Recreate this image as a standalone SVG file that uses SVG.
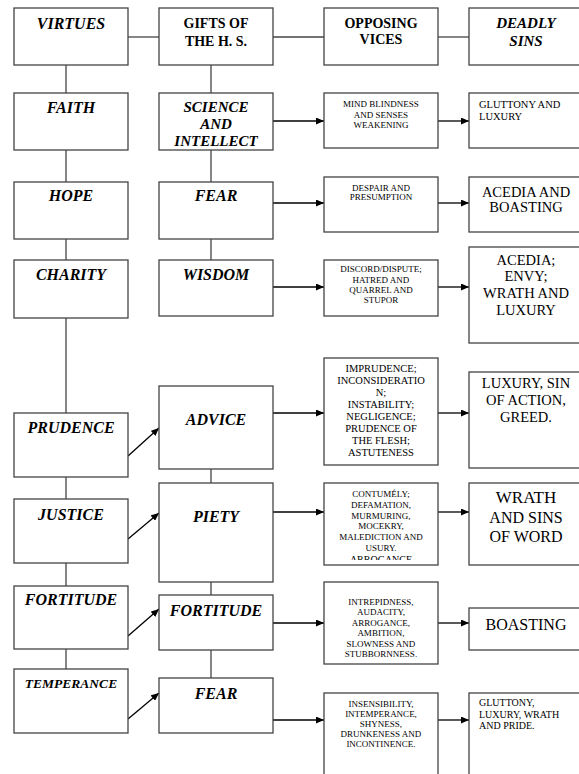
<svg xmlns="http://www.w3.org/2000/svg" width="579" height="774" viewBox="0 0 579 774">
<style>
.box{fill:#fff;stroke:#444;stroke-width:1.3}
.ln{stroke:#444;stroke-width:1.3;fill:none}
.ar{stroke:#000;stroke-width:1.3;fill:none;marker-end:url(#ah)}
text{font-family:"Liberation Serif","Times New Roman",serif;fill:#000;text-anchor:middle}
.bi{font-weight:bold;font-style:italic;font-size:16px}
.b{font-weight:bold;font-size:14px}
.s{font-size:9px}
.m{font-size:10.5px}
.L{font-size:14.5px}
.st{text-anchor:start}
</style>
<defs>
<marker id="ah" markerUnits="userSpaceOnUse" markerWidth="8" markerHeight="7" refX="8" refY="3.5" orient="auto">
<path d="M0,0 L8,3.5 L0,7 z" fill="#000"/>
</marker>
<clipPath id="clipC"><rect x="324" y="483" width="114" height="77"/></clipPath>
</defs>
<rect width="579" height="774" fill="#fff"/>
<g id="connectors">
<line class="ln" x1="128" y1="37" x2="159" y2="37"/>
<line class="ln" x1="273" y1="37" x2="324" y2="37"/>
<line class="ln" x1="438" y1="37" x2="469" y2="37"/>
<line class="ln" x1="66" y1="65" x2="66" y2="93"/>
<line class="ln" x1="66" y1="150" x2="66" y2="182"/>
<line class="ln" x1="66" y1="239" x2="66" y2="260"/>
<line class="ln" x1="66" y1="318" x2="66" y2="413"/>
<line class="ln" x1="66" y1="477" x2="66" y2="499"/>
<line class="ln" x1="66" y1="563" x2="66" y2="586"/>
<line class="ln" x1="66" y1="649" x2="66" y2="669"/>
<line class="ln" x1="211" y1="65" x2="211" y2="93"/>
<line class="ln" x1="211" y1="150" x2="211" y2="182"/>
<line class="ln" x1="211" y1="239" x2="211" y2="260"/>
<line class="ln" x1="211" y1="469" x2="211" y2="483"/>
<line class="ln" x1="211" y1="582" x2="211" y2="595"/>
<line class="ln" x1="211" y1="650" x2="211" y2="678"/>
<line class="ar" x1="273" y1="121" x2="324" y2="121"/>
<line class="ar" x1="438" y1="121" x2="469" y2="121"/>
<line class="ar" x1="273" y1="203" x2="324" y2="203"/>
<line class="ar" x1="438" y1="203" x2="469" y2="203"/>
<line class="ar" x1="273" y1="287" x2="324" y2="287"/>
<line class="ar" x1="438" y1="287" x2="469" y2="287"/>
<line class="ar" x1="273" y1="413" x2="324" y2="413"/>
<line class="ar" x1="438" y1="413" x2="469" y2="413"/>
<line class="ar" x1="273" y1="512" x2="324" y2="512"/>
<line class="ar" x1="438" y1="512" x2="469" y2="512"/>
<line class="ar" x1="273" y1="623" x2="324" y2="623"/>
<line class="ar" x1="438" y1="623" x2="469" y2="623"/>
<line class="ar" x1="273" y1="720" x2="324" y2="720"/>
<line class="ar" x1="438" y1="720" x2="469" y2="720"/>
<line class="ar" x1="128" y1="456" x2="159" y2="428"/>
<line class="ar" x1="128" y1="539" x2="159" y2="513"/>
<line class="ar" x1="128" y1="636" x2="159" y2="609"/>
<line class="ar" x1="128" y1="719" x2="159" y2="693"/>
</g>
<g id="virtues"><rect class="box" x="14" y="8" width="114" height="57"/><text class="bi" x="71" y="29">VIRTUES</text></g>
<g id="faith"><rect class="box" x="14" y="93" width="114" height="57"/><text class="bi" x="71" y="113">FAITH</text></g>
<g id="hope"><rect class="box" x="14" y="182" width="114" height="57"/><text class="bi" x="71" y="201">HOPE</text></g>
<g id="charity"><rect class="box" x="14" y="260" width="114" height="58"/><text class="bi" x="71" y="280">CHARITY</text></g>
<g id="prudence"><rect class="box" x="14" y="413" width="114" height="64"/><text class="bi" x="71" y="433">PRUDENCE</text></g>
<g id="justice"><rect class="box" x="14" y="499" width="114" height="64"/><text class="bi" x="71" y="520">JUSTICE</text></g>
<g id="fortitude-v"><rect class="box" x="14" y="586" width="114" height="63"/><text class="bi" x="71" y="605">FORTITUDE</text></g>
<g id="temperance"><rect class="box" x="14" y="669" width="114" height="64"/><text class="bi" x="71" y="688" style="font-size:13.5px">TEMPERANCE</text></g>

<g id="gifts"><rect class="box" x="159" y="8" width="114" height="57"/><text class="b" x="216" y="28">GIFTS OF</text><text class="b" x="216" y="46">THE H. S.</text></g>
<g id="science"><rect class="box" x="159" y="93" width="114" height="57"/><text class="bi" x="216" y="112" style="font-size:15px">SCIENCE</text><text class="bi" x="216" y="129" style="font-size:15px">AND</text><text class="bi" x="216" y="146" style="font-size:15px">INTELLECT</text></g>
<g id="fear1"><rect class="box" x="159" y="182" width="114" height="57"/><text class="bi" x="216" y="201">FEAR</text></g>
<g id="wisdom"><rect class="box" x="159" y="260" width="114" height="56"/><text class="bi" x="216" y="280">WISDOM</text></g>
<g id="advice"><rect class="box" x="159" y="386" width="114" height="83"/><text class="bi" x="216" y="425">ADVICE</text></g>
<g id="piety"><rect class="box" x="159" y="483" width="114" height="99"/><text class="bi" x="216" y="522">PIETY</text></g>
<g id="fortitude-g"><rect class="box" x="159" y="595" width="114" height="55"/><text class="bi" x="216" y="616">FORTITUDE</text></g>
<g id="fear2"><rect class="box" x="159" y="678" width="114" height="55"/><text class="bi" x="216" y="699">FEAR</text></g>

<g id="opposing"><rect class="box" x="324" y="8" width="114" height="57"/><text class="b" x="381" y="28">OPPOSING</text><text class="b" x="381" y="44">VICES</text></g>
<g id="mind"><rect class="box" x="324" y="93" width="114" height="55"/><text class="s" x="381" y="107">MIND BLINDNESS</text><text class="s" x="381" y="118">AND SENSES</text><text class="s" x="381" y="128">WEAKENING</text></g>
<g id="despair"><rect class="box" x="324" y="177" width="114" height="55"/><text class="s" x="381" y="191">DESPAIR AND</text><text class="s" x="381" y="200">PRESUMPTION</text></g>
<g id="discord"><rect class="box" x="324" y="260" width="114" height="56"/><text class="s" x="381" y="272">DISCORD/DISPUTE;</text><text class="s" x="381" y="283">HATRED AND</text><text class="s" x="381" y="293">QUARREL AND</text><text class="s" x="381" y="303">STUPOR</text></g>
<g id="imprudence"><rect class="box" x="324" y="358" width="114" height="107"/>
<text class="m" x="381" y="372">IMPRUDENCE;</text><text class="m" x="381" y="384">INCONSIDERATIO</text><text class="m" x="381" y="396">N;</text><text class="m" x="381" y="408">INSTABILITY;</text><text class="m" x="381" y="420">NEGLIGENCE;</text><text class="m" x="381" y="432">PRUDENCE OF</text><text class="m" x="381" y="444">THE FLESH;</text><text class="m" x="381" y="456">ASTUTENESS</text></g>
<g id="contumely"><rect class="box" x="324" y="483" width="114" height="82"/>
<g clip-path="url(#clipC)"><text class="s" x="381" y="497">CONTUMÉLY;</text><text class="s" x="381" y="507.8">DEFAMATION,</text><text class="s" x="381" y="518.6">MURMURING,</text><text class="s" x="381" y="529.4">MOCEKRY,</text><text class="s" x="381" y="540.2">MALEDICTION AND</text><text class="s" x="381" y="551">USURY.</text><text class="s" x="381" y="562.5" style="font-size:10px">ARROGANCE</text></g></g>
<g id="intrepidness"><rect class="box" x="324" y="582" width="114" height="82"/>
<text class="s" x="381" y="605">INTREPIDNESS,</text><text class="s" x="381" y="615.4">AUDACITY,</text><text class="s" x="381" y="625.8">ARROGANCE,</text><text class="s" x="381" y="636.2">AMBITION,</text><text class="s" x="381" y="646.6">SLOWNESS AND</text><text class="s" x="381" y="657">STUBBORNNESS.</text></g>
<g id="insensibility"><rect class="box" x="324" y="693" width="114" height="95"/>
<text class="s" x="381" y="707">INSENSIBILITY,</text><text class="s" x="381" y="717">INTEMPERANCE,</text><text class="s" x="381" y="727">SHYNESS,</text><text class="s" x="381" y="737">DRUNKENESS AND</text><text class="s" x="381" y="747">INCONTINENCE.</text></g>

<g id="deadly"><rect class="box" x="469" y="8" width="114" height="57"/><text class="bi" x="526" y="28" style="font-size:15px">DEADLY</text><text class="bi" x="526" y="46" style="font-size:15px">SINS</text></g>
<g id="gluttony1"><rect class="box" x="469" y="93" width="114" height="55"/><text class="m st" x="479" y="108">GLUTTONY AND</text><text class="m st" x="479" y="119.5">LUXURY</text></g>
<g id="acedia1"><rect class="box" x="469" y="177" width="114" height="55"/><text class="L" x="526" y="197">ACEDIA AND</text><text class="L" x="526" y="212">BOASTING</text></g>
<g id="acedia2"><rect class="box" x="469" y="247" width="114" height="96"/><text class="L" x="526" y="265">ACEDIA;</text><text class="L" x="526" y="281">ENVY;</text><text class="L" x="526" y="298">WRATH AND</text><text class="L" x="526" y="315">LUXURY</text></g>
<g id="luxury"><rect class="box" x="469" y="372" width="114" height="96"/><text class="L" x="526" y="388">LUXURY, SIN</text><text class="L" x="526" y="405">OF ACTION,</text><text class="L" x="526" y="422">GREED.</text></g>
<g id="wrath"><rect class="box" x="469" y="483" width="114" height="82"/><text class="L" x="526" y="503" style="font-size:17px">WRATH</text><text class="L" x="526" y="523" style="font-size:16px">AND SINS</text><text class="L" x="526" y="542" style="font-size:16px">OF WORD</text></g>
<g id="boasting"><rect class="box" x="469" y="608" width="114" height="42"/><text class="L" x="526" y="630" style="font-size:16px">BOASTING</text></g>
<g id="gluttony2"><rect class="box" x="469" y="693" width="114" height="95"/><text class="st" x="479" y="706" style="font-size:10px">GLUTTONY,</text><text class="st" x="479" y="717.5" style="font-size:10px">LUXURY, WRATH</text><text class="st" x="479" y="729" style="font-size:10px">AND PRIDE.</text></g>
</svg>
